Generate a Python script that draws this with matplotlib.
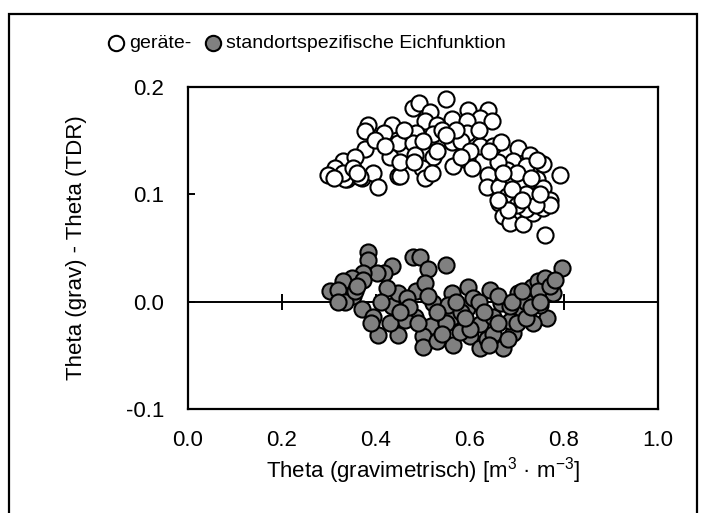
"""Theta (grav) - Theta (TDR) against gravimetric water content, two calibrations."""

import matplotlib

matplotlib.use("Agg")
import matplotlib.pyplot as plt
from matplotlib.patches import Rectangle

plt.rcParams["font.family"] = ["Liberation Sans", "DejaVu Sans"]
plt.rcParams["mathtext.default"] = "regular"

# device calibration (white)
geraete_x = [
    0.550, 0.479, 0.492, 0.515, 0.384, 0.433, 0.416, 0.377, 0.596, 0.639,
    0.621, 0.646, 0.561, 0.593, 0.504, 0.529, 0.486, 0.522, 0.561, 0.593,
    0.621, 0.650, 0.667, 0.703, 0.728, 0.756, 0.791, 0.447, 0.479, 0.430,
    0.447, 0.483, 0.522, 0.497, 0.564, 0.593, 0.604, 0.377, 0.398, 0.330,
    0.313, 0.298, 0.338, 0.370, 0.394, 0.405, 0.355, 0.639, 0.636, 0.661,
    0.678, 0.661, 0.692, 0.713, 0.742, 0.756, 0.770, 0.735, 0.713, 0.692,
    0.671, 0.685, 0.713, 0.735, 0.756, 0.770, 0.760, 0.692, 0.720, 0.678,
    0.742, 0.720, 0.334, 0.366, 0.451, 0.504, 0.450, 0.530, 0.580, 0.600,
    0.660, 0.700, 0.720, 0.740, 0.700, 0.680, 0.330, 0.350, 0.540, 0.570,
    0.360, 0.310, 0.420, 0.460, 0.500, 0.550, 0.620, 0.640, 0.670, 0.690,
    0.710, 0.750, 0.730, 0.660, 0.480, 0.520, 0.580,
]
geraete_y = [
    0.189, 0.180, 0.185, 0.177, 0.165, 0.165, 0.157, 0.159, 0.179, 0.179,
    0.171, 0.168, 0.170, 0.168, 0.168, 0.165, 0.157, 0.156, 0.149, 0.157,
    0.145, 0.145, 0.149, 0.143, 0.137, 0.128, 0.118, 0.148, 0.148, 0.135,
    0.117, 0.137, 0.135, 0.125, 0.126, 0.132, 0.125, 0.142, 0.151, 0.131,
    0.125, 0.118, 0.114, 0.115, 0.120, 0.107, 0.135, 0.118, 0.107, 0.107,
    0.098, 0.092, 0.114, 0.111, 0.114, 0.106, 0.095, 0.098, 0.097, 0.083,
    0.080, 0.073, 0.072, 0.083, 0.087, 0.090, 0.062, 0.131, 0.126, 0.123,
    0.132, 0.086, 0.114, 0.116, 0.117, 0.115, 0.130, 0.140, 0.150, 0.140,
    0.130, 0.120, 0.100, 0.090, 0.090, 0.085, 0.120, 0.125, 0.160, 0.160,
    0.120, 0.115, 0.145, 0.160, 0.150, 0.155, 0.160, 0.140, 0.120, 0.105,
    0.095, 0.100, 0.115, 0.095, 0.130, 0.120, 0.135,
]

# site-specific calibration (grey)
standort_x = [
    0.384, 0.382, 0.479, 0.494, 0.550, 0.511, 0.433, 0.416, 0.402, 0.373,
    0.348, 0.330, 0.302, 0.320, 0.352, 0.334, 0.370, 0.394, 0.405, 0.447,
    0.433, 0.447, 0.486, 0.504, 0.522, 0.483, 0.518, 0.500, 0.500, 0.564,
    0.561, 0.561, 0.596, 0.593, 0.621, 0.600, 0.621, 0.643, 0.650, 0.667,
    0.671, 0.692, 0.710, 0.703, 0.731, 0.745, 0.760, 0.763, 0.777, 0.795,
    0.763, 0.735, 0.373, 0.462, 0.579, 0.607, 0.685, 0.636, 0.529, 0.465,
    0.423, 0.355, 0.554, 0.685, 0.720, 0.749, 0.550, 0.580, 0.620, 0.650,
    0.680, 0.700, 0.530, 0.470, 0.430, 0.600, 0.660, 0.720, 0.745,
    0.320, 0.360, 0.390, 0.410, 0.450, 0.490, 0.510, 0.540, 0.570, 0.590,
    0.630, 0.640, 0.660, 0.690, 0.710, 0.730, 0.750, 0.770, 0.780,
]
standort_y = [
    0.046, 0.039, 0.042, 0.042, 0.034, 0.030, 0.033, 0.027, 0.027, 0.027,
    0.022, 0.019, 0.010, 0.011, 0.005, 0.000, -0.007, -0.014, -0.031, -0.031,
    -0.004, 0.008, 0.010, 0.017, -0.001, -0.014, -0.023, -0.032, -0.042, -0.040,
    -0.014, 0.008, 0.014, -0.006, -0.021, -0.032, -0.043, 0.011, -0.014, -0.001,
    -0.043, -0.029, -0.007, 0.008, 0.014, 0.019, 0.022, 0.008, 0.008, 0.031,
    -0.015, -0.020, 0.020, -0.017, -0.028, 0.003, -0.018, -0.035, -0.037, 0.003,
    0.013, 0.010, -0.003, -0.004, 0.000, -0.003, -0.020, -0.010, 0.000, -0.030,
    -0.035, -0.020, -0.010, -0.005, -0.020, -0.025, 0.005, -0.015, 0.010,
    0.000, 0.015, -0.020, 0.000, -0.010, -0.020, 0.005, -0.030, 0.000, -0.015,
    -0.010, -0.040, -0.020, 0.000, 0.010, -0.005, 0.000, 0.015, 0.020,
]

x_ticks = [0.0, 0.2, 0.4, 0.6, 0.8, 1.0]
y_ticks = [-0.1, 0.0, 0.1, 0.2]


def main() -> None:
    fig = plt.figure(figsize=(7.06, 5.13), dpi=100)
    ax = fig.add_axes([0.2663, 0.2027, 0.6657, 0.6277])

    ms = 135
    ax.scatter(geraete_x, geraete_y, s=ms, facecolor="white", edgecolor="black",
               linewidth=1.5, zorder=3, label="geräte-")
    ax.scatter(standort_x, standort_y, s=ms, facecolor="#808080", edgecolor="black",
               linewidth=1.5, zorder=4, label="standortspezifische Eichfunktion")

    ax.set_xlim(0.0, 1.0)
    ax.set_ylim(-0.1, 0.2)
    ax.set_xticks(x_ticks)
    ax.set_yticks(y_ticks)
    ax.set_xticklabels([f"{v:.1f}" for v in x_ticks])
    ax.set_yticklabels([f"{v:.1f}" for v in y_ticks])
    ax.tick_params(axis="x", length=0, labelsize=16, pad=15)
    ax.tick_params(axis="y", direction="in", length=5, width=1.4, labelsize=16, pad=17)
    for spine in ax.spines.values():
        spine.set_linewidth(1.6)

    # x axis crossing at y = 0 with cross ticks
    ax.axhline(0.0, color="black", linewidth=1.4, zorder=2)
    sec = ax.secondary_xaxis(1 / 3)
    sec.set_xticks(x_ticks[1:-1])
    sec.tick_params(direction="inout", length=12, width=1.4, labelbottom=False)
    sec.spines["bottom"].set_visible(False)

    ax.set_xlabel("Theta (gravimetrisch) [m$^3$ · m$^{-3}$]", fontsize=16, labelpad=3)
    ax.set_ylabel("Theta (grav) - Theta (TDR)", fontsize=16, labelpad=28)

    fig.legend(loc="center", bbox_to_anchor=(305 / 706, 1 - 43 / 513), ncol=2,
               frameon=False, fontsize=14, markerscale=0.95, handletextpad=0.1,
               columnspacing=0.5, borderpad=0.2, handlelength=1.2)

    fig.patches.append(Rectangle((9 / 706, -0.1), 688 / 706, 1.1 - 14 / 513,
                                 transform=fig.transFigure, fill=False,
                                 edgecolor="black", linewidth=1.6))

    fig.savefig("out.png", dpi=100)
    plt.close(fig)


if __name__ == "__main__":
    main()
